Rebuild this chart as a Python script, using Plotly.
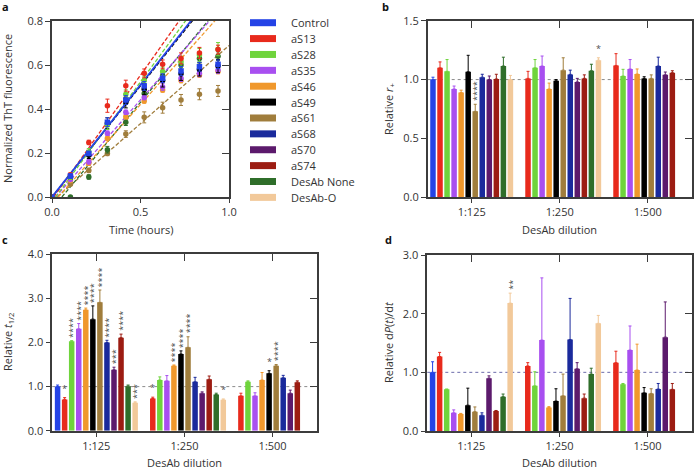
import plotly.graph_objects as go

W, H = 695, 470
FONT = "Open Sans"
INK = "#333333"
FRAME = "#3c3c3c"

# ---------------- shared categories ----------------
SERIES = ["Control", "aS13", "aS28", "aS35", "aS46", "aS49", "aS61",
          "aS68", "aS70", "aS74", "DesAb None", "DesAb-O"]
COLORS = ["#2443e6", "#e82a1c", "#6fd43c", "#a84ff0", "#f0982c", "#000000",
          "#a07d3c", "#1a2a9c", "#5c1a6c", "#9c1c12", "#2f6e2a", "#f2c99a"]
DILUTIONS = ["1:125", "1:250", "1:500"]

# ---------------- panel a: ThT kinetics ----------------
TIME_H = [0, 0.104, 0.208, 0.313, 0.417, 0.521, 0.625, 0.729, 0.833, 0.938]
THT_CONTROL = [0, 0.095, 0.198, 0.340, 0.441, 0.505, 0.540, 0.573, 0.592, 0.603]
THT_AS13 = [0, 0.100, 0.248, 0.415, 0.506, 0.562, 0.603, 0.630, 0.655, 0.670]
THT_AS28 = [0, 0.090, 0.205, 0.327, 0.467, 0.529, 0.570, 0.615, 0.645, 0.672]
THT_AS35 = [0, 0.080, 0.160, 0.290, 0.385, 0.452, 0.500, 0.540, 0.562, 0.577]
THT_AS46 = [0, 0.075, 0.153, 0.267, 0.365, 0.436, 0.486, 0.529, 0.555, 0.570]
THT_AS49 = [0, 0.090, 0.190, 0.335, 0.430, 0.490, 0.530, 0.560, 0.580, 0.595]
THT_AS61 = [0, 0.058, 0.121, 0.198, 0.286, 0.362, 0.406, 0.441, 0.467, 0.482]
THT_DESAB_NONE = [0, 0.0, 0.091, 0.215, 0.340, 0.470, 0.550, 0.600, 0.630, 0.640]
THT_CONTROL_ERR = [0, 0.01, 0.01, 0.02, 0.02, 0.02, 0.02, 0.02, 0.02, 0.02]
THT_AS13_ERR = [0, 0.01, 0.01, 0.03, 0.025, 0.02, 0.02, 0.025, 0.025, 0.02]
THT_AS28_ERR = [0, 0.01, 0.015, 0.02, 0.02, 0.02, 0.02, 0.025, 0.03, 0.03]
THT_AS35_ERR = [0, 0.005, 0.01, 0.01, 0.01, 0.01, 0.015, 0.015, 0.015, 0.015]
THT_AS46_ERR = [0, 0.005, 0.01, 0.01, 0.01, 0.01, 0.01, 0.01, 0.01, 0.01]
THT_AS49_ERR = [0, 0.01, 0.015, 0.025, 0.025, 0.025, 0.03, 0.03, 0.03, 0.03]
THT_AS61_ERR = [0, 0.005, 0.01, 0.01, 0.015, 0.025, 0.025, 0.025, 0.025, 0.025]
THT_DESAB_NONE_ERR = [0, 0.0, 0.01, 0.015, 0.015, 0.02, 0.02, 0.02, 0.02, 0.02]
KINETIC_SERIES = ["aS61", "DesAb None", "aS46", "aS35", "aS49", "aS28", "aS13", "Control"]
FIT_SLOPE = [0.71, 0.97, 0.905, 0.92, 1.01, 1.09, 1.13, 1.02]
FIT_ONSET = [0.03, 0.056, 0.035, 0.02, 0.0, 0.02, 0.01, 0.0]

# ---------------- panel b: relative r+ ----------------
RPLUS_125 = [1.00, 1.10, 1.07, 0.92, 0.89, 1.066, 0.73, 1.02, 1.00, 1.005, 1.115, 1.00]
RPLUS_250 = [None, 1.01, 1.10, 1.115, 0.92, 0.99, 1.08, 1.044, 0.98, 1.01, 1.075, 1.165]
RPLUS_500 = [None, 1.12, 1.03, 1.09, 1.047, 1.01, 1.01, 1.115, 1.04, 1.058, None, None]
RPLUS_125_ERR = [0.02, 0.05, 0.10, 0.025, 0.02, 0.14, 0.06, 0.025, 0.03, 0.04, 0.075, 0.035]
RPLUS_250_ERR = [None, 0.06, 0.07, 0.085, 0.05, 0.01, 0.105, 0.036, 0.03, 0.03, 0.055, 0.02]
RPLUS_500_ERR = [None, 0.10, 0.057, 0.08, 0.043, 0.014, 0.03, 0.075, 0.024, 0.017, None, None]
SIG_RPLUS = [("aS61", "1:125", "****"), ("DesAb-O", "1:250", "*")]

# ---------------- panel c: relative t1/2 ----------------
THALF_125 = [1.00, 0.71, 2.03, 2.31, 2.74, 2.53, 2.91, 2.00, 1.38, 2.11, 1.01, 0.635]
THALF_250 = [None, 0.73, 1.15, 1.13, 1.47, 1.74, 1.89, 1.11, 0.85, 1.165, 0.82, 0.70]
THALF_500 = [None, 0.79, 1.11, 0.79, 1.15, 1.30, 1.47, 1.20, 0.85, 1.10, None, None]
THALF_125_ERR = [0.035, 0.04, 0.01, 0.12, 0.04, 0.30, 0.28, 0.05, 0.06, 0.08, 0.025, 0.02]
THALF_250_ERR = [None, 0.03, 0.07, 0.12, 0.02, 0.07, 0.24, 0.10, 0.03, 0.075, 0.03, 0.02]
THALF_500_ERR = [None, 0.06, 0.02, 0.07, 0.17, 0.06, 0.03, 0.055, 0.07, 0.03, None, None]
SIG_THALF = [("aS13", "1:125", "*"), ("aS28", "1:125", "****"), ("aS35", "1:125", "****"),
             ("aS46", "1:125", "****"), ("aS49", "1:125", "****"), ("aS61", "1:125", "****"),
             ("aS68", "1:125", "****"), ("aS70", "1:125", "***"), ("aS74", "1:125", "****"),
             ("DesAb-O", "1:125", "***"), ("aS13", "1:250", "*"), ("aS46", "1:250", "****"),
             ("aS49", "1:250", "****"), ("aS61", "1:250", "****"), ("DesAb-O", "1:250", "*"),
             ("aS49", "1:500", "*"), ("aS61", "1:500", "****")]

# ---------------- panel d: relative dP(t)/dt ----------------
DPDT_125 = [1.00, 1.27, 0.71, 0.31, 0.29, 0.44, 0.33, 0.27, 0.90, 0.34, 0.585, 2.18]
DPDT_250 = [None, 1.11, 0.77, 1.55, 0.40, 0.51, 0.60, 1.56, 1.06, 0.56, 0.97, 1.835]
DPDT_500 = [None, 1.165, 0.795, 1.38, 1.04, 0.65, 0.64, 0.715, 1.60, 0.71, None, None]
DPDT_125_ERR = [0.18, 0.07, 0.005, 0.05, 0.01, 0.29, 0.08, 0.04, 0.04, 0.01, 0.045, 0.17]
DPDT_250_ERR = [None, 0.055, 0.24, 1.06, 0.015, 0.21, 0.37, 0.70, 0.105, 0.07, 0.10, 0.135]
DPDT_500_ERR = [None, 0.195, 0.015, 0.41, 0.44, 0.09, 0.08, 0.095, 0.60, 0.10, None, None]
SIG_DPDT = [("DesAb-O", "1:125", "**")]

REFERENCE_LEVEL = 1.0

# ---------------- layout geometry (pixels) ----------------
BOX = {1: (52, 229, 21, 197), 2: (427.7, 691.7, 20.7, 197.3),
       3: (52.3, 316.7, 254.3, 430.7), 4: (427.3, 691.7, 255, 431)}
YRANGE = {1: [0, 0.8], 2: [0, 1.5], 3: [0, 4.0], 4: [0, 3.0]}
YDTICK = {1: 0.2, 2: 0.5, 3: 1.0, 4: 1.0}
BARGAP, BARGROUPGAP = 0.04, 0.22


def fx(p):
    return p / W


def fy(p):
    return 1 - p / H


fig = go.Figure()
layout = dict(template="none", width=W, height=H, margin=dict(l=0, r=0, t=0, b=0, pad=0),
              paper_bgcolor="white", plot_bgcolor="white", showlegend=False,
              barmode="group", bargap=BARGAP, bargroupgap=BARGROUPGAP,
              font=dict(family=FONT, color=INK, size=11))

tick_common = dict(showgrid=False, zeroline=False, tickcolor=FRAME, tickwidth=1.3,
                   automargin=False, tickfont=dict(family=FONT, size=11, color=INK))
for k, (l, r, t, b) in BOX.items():
    sx = "" if k == 1 else str(k)
    xdom = [fx(l), fx(r)]
    ydom = [fy(b), fy(t)]
    ytv = [round(i * YDTICK[k], 3) for i in range(int(round(YRANGE[k][1] / YDTICK[k])) + 1)]
    if k == 1:
        xmain = dict(range=[0, 1], tickvals=[0, 0.5, 1.0], tickformat=".1f")
        xtop = dict(range=[0, 1], tickvals=[0, 0.5, 1.0])
    else:
        xmain = dict(type="category", categoryorder="array", categoryarray=DILUTIONS,
                     range=[-0.5, 2.5])
        xtop = dict(range=[-0.5, 2.5], tickvals=[0, 1, 2])
    layout["xaxis" + sx] = dict(domain=xdom, anchor="y" + sx, showline=True, linecolor=FRAME,
                                linewidth=1.6, mirror=True, ticks="outside", ticklen=4,
                                **xmain, **tick_common)
    layout["yaxis" + sx] = dict(domain=ydom, anchor="x" + sx, range=YRANGE[k], tickvals=ytv,
                                tickformat=".1f", showline=True, linecolor=FRAME, linewidth=1.6,
                                mirror=True, ticks="outside", ticklen=5, **tick_common)
    # inward ticks on the top and right edges
    layout["xaxis" + str(k + 4)] = dict(overlaying="x" + sx, anchor="y" + sx, side="top",
                                        ticks="inside", ticklen=7, showticklabels=False,
                                        showline=False, **xtop, **tick_common)
    layout["yaxis" + str(k + 4)] = dict(overlaying="y" + sx, anchor="x" + sx, side="right",
                                        range=YRANGE[k], tickvals=ytv, ticks="inside", ticklen=7,
                                        showticklabels=False, showline=False, **tick_common)
    fig.add_trace(go.Scatter(x=[None], y=[None], xaxis="x" + str(k + 4), yaxis="y" + sx,
                             hoverinfo="skip", showlegend=False))
    fig.add_trace(go.Scatter(x=[None], y=[None], xaxis="x" + sx, yaxis="y" + str(k + 4),
                             hoverinfo="skip", showlegend=False))

# ---------------- panel a traces ----------------
THT = {"Control": (THT_CONTROL, THT_CONTROL_ERR), "aS13": (THT_AS13, THT_AS13_ERR),
       "aS28": (THT_AS28, THT_AS28_ERR), "aS35": (THT_AS35, THT_AS35_ERR),
       "aS46": (THT_AS46, THT_AS46_ERR), "aS49": (THT_AS49, THT_AS49_ERR),
       "aS61": (THT_AS61, THT_AS61_ERR), "DesAb None": (THT_DESAB_NONE, THT_DESAB_NONE_ERR)}
for name, slope, onset in zip(KINETIC_SERIES, FIT_SLOPE, FIT_ONSET):
    col = COLORS[SERIES.index(name)]
    solid = name == "Control"
    fig.add_trace(go.Scatter(x=[onset, 1.0], y=[0, slope * (1.0 - onset)], mode="lines",
                             line=dict(color=col, width=1.8 if solid else 1.3,
                                       dash="solid" if solid else "4px,2px"),
                             xaxis="x", yaxis="y", hoverinfo="skip"))
for name in KINETIC_SERIES:
    col = COLORS[SERIES.index(name)]
    vals, errs = THT[name]
    fig.add_trace(go.Scatter(x=TIME_H, y=vals, mode="markers", name=name,
                             marker=dict(color=col, size=5.5,
                                         symbol="square" if name == "Control" else "circle"),
                             error_y=dict(type="data", array=errs, color=col, thickness=1, width=2),
                             xaxis="x", yaxis="y"))

# ---------------- bar panels ----------------
PANELS = {2: ((RPLUS_125, RPLUS_250, RPLUS_500), (RPLUS_125_ERR, RPLUS_250_ERR, RPLUS_500_ERR), SIG_RPLUS, "#8a8a8a"),
          3: ((THALF_125, THALF_250, THALF_500), (THALF_125_ERR, THALF_250_ERR, THALF_500_ERR), SIG_THALF, "#8a8a8a"),
          4: ((DPDT_125, DPDT_250, DPDT_500), (DPDT_125_ERR, DPDT_250_ERR, DPDT_500_ERR), SIG_DPDT, "#6b6baa")}
annotations = []
shapes = []
for k, (vals, errs, sigs, refcol) in PANELS.items():
    sx = str(k)
    for i, name in enumerate(SERIES):
        y = [v[i] for v in vals]
        e = [er[i] for er in errs]
        fig.add_trace(go.Bar(x=DILUTIONS, y=y, name=name, marker=dict(color=COLORS[i], line=dict(width=0)),
                             error_y=dict(type="data", symmetric=False, array=e,
                                          arrayminus=[0] * len(e), color=COLORS[i],
                                          thickness=1, width=1.5),
                             xaxis="x" + sx, yaxis="y" + sx))
    shapes.append(dict(type="line", xref="x" + sx + " domain", yref="y" + sx, x0=0, x1=1,
                       y0=REFERENCE_LEVEL, y1=REFERENCE_LEVEL, layer="below",
                       line=dict(color=refcol, width=1, dash="dot")))
    l, r, t, b = BOX[k]
    slot = (r - l) / len(DILUTIONS) * (1 - BARGAP) / len(SERIES)
    for name, dil, txt in sigs:
        i = SERIES.index(name)
        j = DILUTIONS.index(dil)
        top = vals[j][i] + errs[j][i]
        vertical = len(txt) > 1
        annotations.append(dict(x=dil, y=top, xref="x" + sx, yref="y" + sx, text=txt,
                                showarrow=False, xanchor="center", yanchor="bottom",
                                xshift=(i - (len(SERIES) - 1) / 2) * slot + (1.5 if vertical else 0),
                                yshift=1, textangle=-90 if vertical else 0,
                                font=dict(family=FONT, size=9, color="#505050")))

# ---------------- text: titles, panel letters, legend ----------------
TEXTS = [("Normalized ThT fluorescence", 8, 109, -90),
         ("Time (hours)", 140.5, 230, 0),
         ("Relative <i>r</i><sub>+</sub>", 389, 109, -90),
         ("DesAb dilution", 559.7, 230, 0),
         ("Relative <i>t</i><sub>1/2</sub>", 7.5, 342.5, -90),
         ("DesAb dilution", 184.5, 462, 0),
         ("Relative d<i>P</i>(<i>t</i>)/d<i>t</i>", 388, 343, -90),
         ("DesAb dilution", 559.5, 462, 0)]
for txt, x, y, ang in TEXTS:
    annotations.append(dict(x=fx(x), y=fy(y), xref="paper", yref="paper", text=txt,
                            showarrow=False, xanchor="center", yanchor="middle", textangle=ang,
                            font=dict(family=FONT, size=11, color=INK)))
for txt, x, y in [("a", 5, 7), ("b", 385.5, 7), ("c", 5, 240), ("d", 388, 240)]:
    annotations.append(dict(x=fx(x), y=fy(y), xref="paper", yref="paper", text="<b>%s</b>" % txt,
                            showarrow=False, xanchor="center", yanchor="middle",
                            font=dict(family=FONT, size=11, color="#111111")))

LEG_X0, LEG_X1, LEG_TEXT_X, LEG_Y0, LEG_DY, LEG_H = 250, 276, 289, 22.7, 15.88, 7
for i, (name, col) in enumerate(zip(SERIES, COLORS)):
    yc = LEG_Y0 + i * LEG_DY
    shapes.append(dict(type="rect", xref="paper", yref="paper", x0=fx(LEG_X0), x1=fx(LEG_X1),
                       y0=fy(yc + LEG_H / 2), y1=fy(yc - LEG_H / 2), fillcolor=col,
                       line=dict(width=0)))
    annotations.append(dict(x=fx(LEG_TEXT_X), y=fy(yc), xref="paper", yref="paper", text=name,
                            showarrow=False, xanchor="left", yanchor="middle",
                            font=dict(family=FONT, size=11, color=INK)))

layout["annotations"] = annotations
layout["shapes"] = shapes
fig.update_layout(**layout)
fig.write_html("out.html", config={"displayModeBar": False},
               post_script="document.body.style.margin='0px';document.body.style.padding='0px';"
                           "document.documentElement.style.overflow='hidden';")
